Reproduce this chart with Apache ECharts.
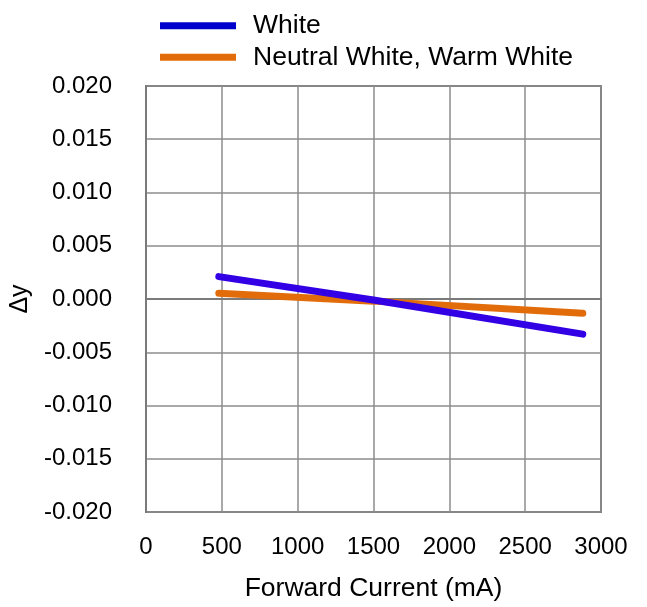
<!DOCTYPE html>
<html>
<head>
<meta charset="utf-8">
<script src="https://cdn.jsdelivr.net/npm/echarts@6/dist/echarts.min.js"></script>
<style>html,body{margin:0;padding:0;background:#fff;}#c{width:647px;height:607px;}</style>
</head>
<body>
<div id="c"></div>
<script>
var seriesNames = ['White', 'Neutral White, Warm White'];
var currentWhite = [480, 1500, 2880];
var dyWhite = [0.0021, -0.0001, -0.0033];
var currentWarm = [480, 1500, 2880];
var dyWarm = [0.00055, -0.0002, -0.00134];
var xTicks = [0, 500, 1000, 1500, 2000, 2500, 3000];
var yTicks = [-0.02, -0.015, -0.01, -0.005, 0, 0.005, 0.01, 0.015, 0.02];

function pairs(xs, ys) { return xs.map(function (x, i) { return [x, ys[i]]; }); }

var font = 'Liberation Sans, Arial, sans-serif';
var chart = echarts.init(document.getElementById('c'), null, { renderer: 'canvas' });
chart.setOption({
  animation: false,
  backgroundColor: '#fff',
  grid: { left: 146, right: 46, top: 86, bottom: 93, show: true, borderColor: '#7a7a7a', borderWidth: 2, backgroundColor: 'transparent' },
  legend: {
    orient: 'vertical', left: 155, top: 5, itemWidth: 76, itemHeight: 7, itemGap: 0,
    textStyle: { fontFamily: font, fontSize: 26.5, color: '#000', lineHeight: 31.5, padding: [0, 0, 0, 12] },
    data: [
      { name: seriesNames[0], icon: 'rect', itemStyle: { color: '#0000cc' } },
      { name: seriesNames[1], icon: 'rect', itemStyle: { color: '#e36c0a' } }
    ]
  },
  xAxis: {
    type: 'value', min: xTicks[0], max: xTicks[xTicks.length - 1], interval: 500,
    name: 'Forward Current (mA)', nameLocation: 'middle', nameGap: 63,
    nameTextStyle: { fontFamily: font, fontSize: 26.5, color: '#000' },
    axisLine: { show: true, lineStyle: { color: '#7a7a7a', width: 2 } },
    axisTick: { show: false },
    axisLabel: { fontFamily: font, fontSize: 24, color: '#000', margin: 23,
      formatter: function (v) { return String(v); } },
    splitLine: { show: true, lineStyle: { color: '#8c8c8c', width: 1.5 } }
  },
  yAxis: {
    type: 'value', min: yTicks[0], max: yTicks[yTicks.length - 1], interval: 0.005,
    name: 'Δy', nameLocation: 'middle', nameGap: 113, nameRotate: 90,
    nameTextStyle: { fontFamily: font, fontSize: 25, color: '#000' },
    axisLine: { show: true, lineStyle: { color: '#7a7a7a', width: 2 } },
    axisTick: { show: false },
    axisLabel: { fontFamily: font, fontSize: 24, color: '#000', margin: 34,
      formatter: function (v) { return v.toFixed(3); } },
    splitLine: { show: true, lineStyle: { color: '#8c8c8c', width: 1.5 } }
  },
  series: [
    { name: seriesNames[0], type: 'line', data: pairs(currentWhite, dyWhite), showSymbol: false, symbol: 'none',
      color: '#3300e6', lineStyle: { color: '#3300e6', width: 7, cap: 'round' }, z: 3 },
    { name: seriesNames[1], type: 'line', data: pairs(currentWarm, dyWarm), showSymbol: false, symbol: 'none',
      color: '#e36c0a', lineStyle: { color: '#e36c0a', width: 7, cap: 'round' }, z: 2 }
  ]
});
</script>
</body>
</html>
